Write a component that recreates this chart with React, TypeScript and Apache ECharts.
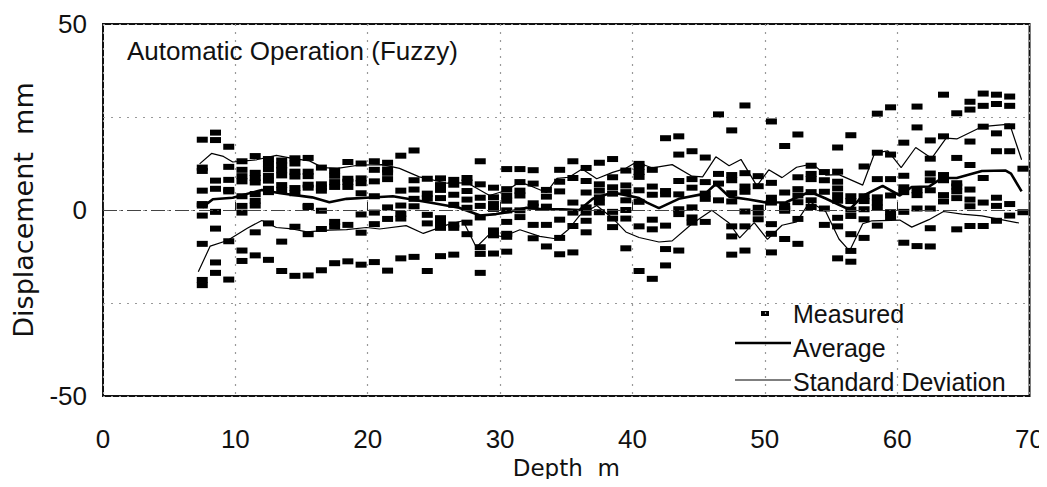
import React, { useEffect, useRef } from "react";
import * as echarts from "echarts";

// ---- data ----
const depths = [
  7.5, 8.5, 9.5, 10.5, 11.5, 12.5, 13.5, 14.5, 15.5, 16.5, 17.5, 18.5, 19.5, 20.5, 21.5, 22.5,
  23.5, 24.5, 25.5, 26.5, 27.5, 28.5, 29.5, 30.5, 31.5, 32.5, 33.5, 34.5, 35.5, 36.5, 37.5,
  38.5, 39.5, 40.5, 41.5, 42.5, 43.5, 44.5, 45.5, 46.5, 47.5, 48.5, 49.5, 50.5, 51.5, 52.5,
  53.5, 54.5, 55.5, 56.5, 57.5, 58.5, 59.5, 60.5, 61.5, 62.5, 63.5, 64.5, 65.5, 66.5, 67.5,
  68.5, 69.5,
];

const measured: number[][] = [
  [18.9, 11.4, 10.5, 5.2, 1.6, 1.2, -1.5, -9.1, -18.8, -20.2],
  [20.8, 18.8, 7.9, 5.7, -0.5, -5, -14.1, -16.9],
  [17, 11.6, 8.1, 5.4, 5, -8.4, -18.7],
  [13.1, 10.8, 9.1, 7.7, 3.7, 1.1, -0.7, -10.9, -13.7],
  [14.5, 10, 8.6, 7.4, 4.3, 2.5, 1.2, -6, -12.2],
  [13.7, 12.4, 11, 9.2, 7.9, 5.7, 4.8, -3.6, -13.4],
  [13.3, 12, 10.7, 9.3, 6.7, 5.3, -8.5, -16.4],
  [13.9, 12.5, 10.3, 9, 5.9, 4.5, -4.5, -17.7],
  [14, 10.3, 9.1, 6.8, 6, 1.1, 0.8, -6.5, -17.6],
  [11.4, 6.9, 6, 5.2, -0.2, -5.1, -16.2],
  [10.6, 9.2, 7.5, 6.2, -3.2, -4.4, -14.3],
  [12.9, 8.4, 7.6, 6.2, -4, -13.8],
  [12.5, 8.5, 7.2, 4.5, -1.2, -6.1, -14.7],
  [13.1, 10.8, 7.7, 3.7, -0.7, -3.8, -14],
  [12.7, 10.9, 10, 8.3, 0.7, -2.4, -16.3],
  [14.6, 5.2, 1.2, -1, -2.3, -13],
  [16, 8, 5.5, 3, 1, -12.6],
  [8.4, 4.4, 3.1, -1.3, -3.6, -16.4],
  [8.5, 6.7, 5.4, 3.2, -2.2, -3.5, -4.8, -12.4],
  [8.1, 6.8, 4.1, 1.4, -3.9, -4.8, -12],
  [8.6, 7.4, 5.1, 2.8, 0.6, -3.4, -6.5],
  [13.1, 6.9, 3.3, 1.1, -2, -10, -11.8, -16.9],
  [6, 3.4, 1.6, 0.3, -5.5, -6.8, -11.7],
  [11, 5.6, 3.9, 2.5, -0.1, -3.2, -6.4, -7.2, -11.2],
  [11, 7.5, 5.2, 3.9, -0.1, -1.9],
  [10.7, 7.1, 1.8, 0.9, -4, -7.6],
  [5.4, 3.6, 0.9, -4, -9.8],
  [10.8, 7.6, 5, -2.6, -7.5, -11.9],
  [13.1, 8.6, 2, -0.7, -4.3, -11.4],
  [11.3, 7.8, 4.7, 0.7, -0.7, -2.9, -6],
  [12.7, 6.9, 5.2, 3.4, 2, -0.6],
  [13.7, 8.8, 6.1, 4.4, -0.5, -2.3, -4.6],
  [10.6, 6.6, 4.8, 2.6, 0, -2.3, -10.3],
  [12.4, 11.6, 10.2, 8.9, 5.3, 2.2, -4.4, -16.4],
  [10.8, 6.3, 4.1, -2.6, -5.2, -18.5],
  [19.3, 5.1, 4.2, -4.2, -10.5, -14.9],
  [19.8, 14.9, 7.8, 4.2, 0.2, -1.1, -10.9],
  [15.8, 8.3, 6, 0.7, -2, -3.4],
  [14.1, 7.5, 4.4, 3, -3.2],
  [25.7, 9.7, 7.1, 2.6],
  [21.4, 9.4, 8, 4.5, 2.3, -4.4, -7.1, -12],
  [28.1, 9.9, 6.3, 4.9, -0.4, -4.4, -10.9],
  [9.1, 6.4, 0.6, -0.7, -2.5],
  [23.8, 7.3, 3.3, 2, -3.8, -6.4, -11.4],
  [17.2, 4.7, 1.2, 0.3, -0.2, -7.8],
  [20.3, 8.8, 5.6, 3.9, 2.1, -2.4, -9.1],
  [11.9, 9.7, 8.3, 4.8, 2.6, 0.8],
  [10.2, 8, 4.9, 0.4, -4],
  [16.8, 10.3, 7.6, 5.8, 4, 2.5, -2.1, -4.4, -13],
  [20.1, 3.7, 2.4, 0.1, -1.6, -6.5, -11, -13.9],
  [11.7, 3.7, 2.4, 0.2, -2.5, -7.5],
  [25.9, 15.4, 8.3, 3.4, 2, 0.7, -4.2],
  [27.6, 14.9, 8.3, 3.9, -0.6, -1.9],
  [18.1, 9.2, 6.1, 4.8, -0.5, -8.8],
  [27.8, 22.2, 5.3, 4, 0.4, -9.7],
  [18.7, 13.8, 9.8, 8, 5.3, 0.4, -4.9, -9.8],
  [31, 19.8, 9.4, 8, 4, 2.3],
  [26, 14, 7.2, 6.3, 5, 3.2, -5.2],
  [29.1, 27, 18.4, 12.1, 5.5, 2.8, 1, -4.3],
  [31.3, 28, 22.4, 8.6, 2, -4.3],
  [31, 28.5, 20.6, 15.8, 3.3, 1.1, -2.9],
  [30.5, 28, 22.5, 15.8, 1.6, -1.5],
  [11.1, -0.6],
];

const avgDepth = [
  7.5, 8.3, 9.8, 12, 13.4, 15.8, 17.1, 18.4, 19.9, 21.9, 23.9, 25, 26.9, 28.5, 29.7, 30.7, 32,
  33.2, 34.7, 36, 37, 38.5, 39.5, 40.5, 41.1, 42, 43.5, 45.5, 46.3, 47.3, 48.8, 50.1, 51.6,
  53.4, 54.6, 55.6, 56.4, 57.4, 58.9, 60.2, 61.1, 62.4, 63.4, 64.5, 66.4, 68.2, 68.6, 69.4,
];
const avgValue = [
  0.7, 2.9, 3.3, 5.4, 4.5, 3.4, 2.1, 3, 3.3, 3.7, 2.5, 1.8, 0.6, -1.5, -1.1, -0.5, 0.6,
  0.2, 0.2, 0, 3, 4.7, 4, 3.2, 2, 0.5, 3, 4.4, 7, 3.6, 2.8, 2, 2.1,
  4.9, 3.1, 1.4, 0.1, 3.8, 6.5, 3.9, 6.2, 6.3, 8.6, 8.6, 10.5, 10.6, 9.8, 5,
];

const upperDepth = [
  7.3, 8.2, 9.1, 9.8, 11.6, 13.1, 14.3, 15.6, 16.6, 17.7, 19.4, 21.1, 22.4, 23.9, 26, 27.5,
  29.2, 30.5, 31.5, 32.5, 33.5, 34.3, 35.2, 36.2, 37.3, 38.5, 39.5, 40.3, 41.5, 43, 44.5,
  45.3, 46.3, 47.3, 48.2, 49.4, 50.3, 51.3, 52.4, 53.6, 54.6, 55.6, 57.4, 58.3, 59.3, 60.3,
  61.4, 62.6, 63.7, 64.5, 66.4, 68.5, 69.4,
];
const upperValue = [
  12.4, 15.2, 14.4, 12.9, 13.5, 14.7, 13.9, 13.2, 11.4, 11.2, 12.1, 12.2, 11.2, 8.9, 7.2, 7.3,
  3.9, 5.3, 7.5, 6.2, 4.7, 8.5, 8.8, 11, 8.4, 10.1, 11.2, 12.9, 11.3, 12.2, 9.1,
  8.9, 14.3, 11.9, 13.6, 6.5, 10.8, 8.7, 11.5, 12.4, 9.4, 9.5, 6.7, 15.3, 15.9, 11.4,
  16.8, 13.9, 19.3, 19.1, 22.4, 23.1, 13.5,
];

const lowerDepth = [
  7.2, 8.1, 9.4, 10.9, 12, 13.1, 14.3, 15.4, 17.1, 18.4, 19.9, 20.9, 22.9, 24.2, 26, 27.2,
  28.2, 29.2, 30.2, 31.5, 33, 34.3, 35.2, 36, 37.3, 38.5, 39.5, 40.5, 42, 43, 44.5, 46,
  47.3, 48.1, 49.2, 50.2, 51.3, 52.4, 53.4, 54.6, 55.6, 56.4, 57.4, 58.1, 60.2, 61.1, 62.4,
  63.5, 64.9, 66.4, 69.2,
];
const lowerValue = [
  -16.6, -9.7, -8.2, -4.9, -2.8, -4.7, -5.1, -5.9, -5.4, -5.3, -4.7, -5.1, -4.2, -6.3, -4, -2.9,
  -10, -6.5, -7.2, -5.3, -7.1, -7.8, -5.1, -1.5, 1.2, -2.2, -5.9, -7.4, -8.6, -8.3, -3.7, -0.1,
  -3.5, -7.5, -3.4, -7.9, -4.1, -3.2, 2.2, -0.4, -7.8, -11, -3.7, -2.9, -2.7, -4.6, -2.6,
  -0.4, -1.1, -1.6, -3.5,
];

const xTicks = { min: 0, max: 70, interval: 10 };
const yTicks = { min: -50, max: 50, interval: 25 };
const yLabelsShown = [-50, 0, 50];

const titleText = "Automatic Operation (Fuzzy)";
const xName = "Depth  m";
const yName = "Displacement  mm";
const legendNames = ["Measured", "Average", "Standard Deviation"];

const TXT = "'Liberation Sans', Arial, sans-serif";
const WIDE = "'DejaVu Sans', sans-serif";
const NUM = "'Liberation Sans Narrow', 'Arial Narrow', 'Liberation Sans', sans-serif";

export default function App() {
  const ref = useRef<HTMLDivElement>(null);

  useEffect(() => {
    if (!ref.current) return;
    const chart = echarts.init(ref.current, undefined, { renderer: "svg" });

    const scatterData: number[][] = [];
    depths.forEach((d, i) => measured[i].forEach((v) => scatterData.push([d, v])));
    const pair = (xs: number[], ys: number[]) => xs.map((x, i) => [x, ys[i]]);

    const legendX = 735;
    chart.setOption({
      animation: false,
      backgroundColor: "#ffffff",
      grid: {
        left: 103,
        right: 15,
        top: 24,
        bottom: 91,
        show: true,
        borderColor: "#111",
        borderWidth: 2,
        backgroundColor: "transparent",
      },
      xAxis: {
        type: "value",
        min: xTicks.min,
        max: xTicks.max,
        interval: xTicks.interval,
        name: xName,
        nameLocation: "middle",
        nameGap: 56,
        nameTextStyle: { fontFamily: WIDE, fontSize: 23, color: "#111" },
        axisLine: { show: false },
        axisTick: { show: true, inside: true, length: 8, lineStyle: { color: "#222", width: 1 } },
        axisLabel: { margin: 30, fontFamily: NUM, fontSize: 26, color: "#111" },
        splitLine: { show: true, lineStyle: { type: [2, 6], color: "#999", width: 1.2 } },
      },
      yAxis: {
        type: "value",
        min: yTicks.min,
        max: yTicks.max,
        interval: yTicks.interval,
        name: yName,
        nameLocation: "middle",
        nameGap: 66,
        nameTextStyle: { fontFamily: WIDE, fontSize: 27, color: "#111" },
        axisLine: { show: false },
        axisTick: { show: false },
        axisLabel: {
          margin: 16,
          fontFamily: NUM,
          fontSize: 26,
          color: "#111",
          formatter: (v: number) => (yLabelsShown.includes(v) ? String(v) : ""),
        },
        splitLine: { show: true, lineStyle: { type: [2, 6], color: "#999", width: 1.2 } },
      },
      series: [
        {
          name: legendNames[0],
          type: "scatter",
          data: scatterData,
          symbol: "rect",
          symbolSize: [11, 6],
          itemStyle: { color: "#000", opacity: 1, borderWidth: 0 },
          z: 3,
        },
        {
          name: legendNames[1],
          type: "line",
          data: pair(avgDepth, avgValue),
          showSymbol: false,
          symbol: "none",
          lineStyle: { color: "#000", width: 2.6 },
          z: 4,
          markLine: {
            silent: true,
            symbol: "none",
            label: { show: false },
            lineStyle: { type: [14, 4, 2, 4], color: "#444", width: 1 },
            data: [{ yAxis: 0 }],
          },
        },
        {
          name: legendNames[2],
          type: "line",
          data: pair(upperDepth, upperValue),
          showSymbol: false,
          symbol: "none",
          lineStyle: { color: "#000", width: 1.2 },
          z: 4,
        },
        {
          name: legendNames[2] + " (lower)",
          type: "line",
          data: pair(lowerDepth, lowerValue),
          showSymbol: false,
          symbol: "none",
          lineStyle: { color: "#000", width: 1.2 },
          z: 4,
        },
      ],
      graphic: [
        {
          type: "text",
          left: 127,
          top: 38,
          style: { text: titleText, font: `26px ${TXT}`, fill: "#111" },
        },
        {
          type: "rect",
          shape: { x: legendX + 26, y: 311, width: 8, height: 5 },
          style: { fill: "#000", stroke: null },
        },
        {
          type: "line",
          shape: { x1: legendX, y1: 343, x2: legendX + 56, y2: 343 },
          style: { stroke: "#000", lineWidth: 2.6 },
        },
        {
          type: "line",
          shape: { x1: legendX, y1: 380, x2: legendX + 56, y2: 380 },
          style: { stroke: "#000", lineWidth: 1.2 },
        },
        {
          type: "text",
          x: 793,
          y: 314,
          style: { text: legendNames[0], font: `25px ${TXT}`, fill: "#111", verticalAlign: "middle" },
        },
        {
          type: "text",
          x: 793,
          y: 348,
          style: { text: legendNames[1], font: `25px ${TXT}`, fill: "#111", verticalAlign: "middle" },
        },
        {
          type: "text",
          x: 793,
          y: 382,
          style: { text: legendNames[2], font: `25px ${TXT}`, fill: "#111", verticalAlign: "middle" },
        },
      ],
    });

    return () => chart.dispose();
  }, []);

  return <div ref={ref} style={{ width: 1047, height: 487, margin: -8 }} />;
}
